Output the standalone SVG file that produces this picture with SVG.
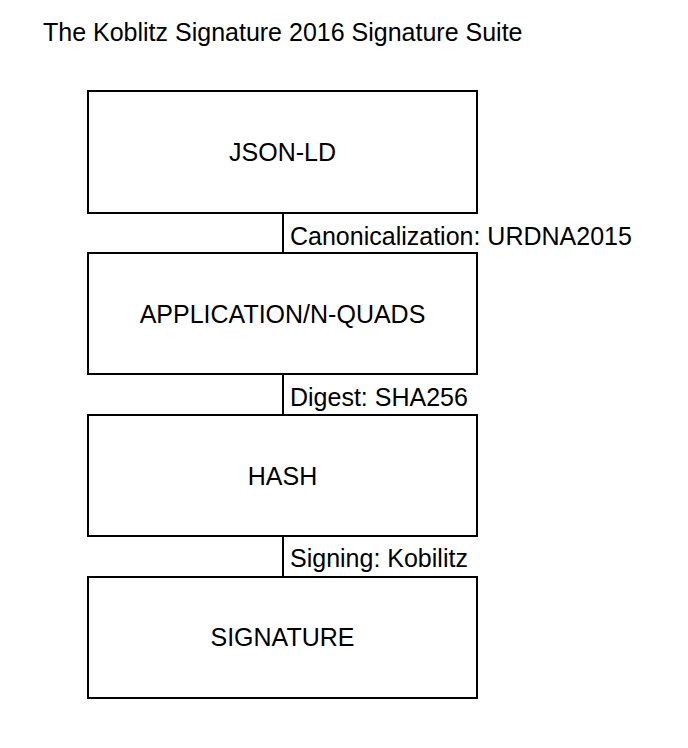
<svg xmlns="http://www.w3.org/2000/svg" width="688" height="748" viewBox="0 0 688 748">
<style>
text{font-family:"Liberation Sans",Arial,sans-serif;font-size:25px;fill:#000}
.box{fill:#fff;stroke:#000;stroke-width:2}
.c{text-anchor:middle}
.conn{stroke:#000;stroke-width:2;fill:none}
</style>
<rect width="688" height="748" fill="#fff"/>
<text x="43" y="41">The Koblitz Signature 2016 Signature Suite</text>
<g id="connectors">
<line class="conn" x1="283" y1="213" x2="283" y2="253"/>
<text x="290" y="245">Canonicalization: URDNA2015</text>
<line class="conn" x1="283" y1="374" x2="283" y2="415"/>
<text x="290" y="406">Digest: SHA256</text>
<line class="conn" x1="283" y1="536" x2="283" y2="577"/>
<text x="290" y="567">Signing: Kobilitz</text>
</g>
<g id="jsonld"><rect class="box" x="88" y="91" width="389" height="122"/><text class="c" x="282.5" y="161">JSON-LD</text></g>
<g id="nquads"><rect class="box" x="88" y="253" width="389" height="121"/><text class="c" x="282.5" y="323">APPLICATION/N-QUADS</text></g>
<g id="hash"><rect class="box" x="88" y="415" width="389" height="121"/><text class="c" x="282.5" y="485">HASH</text></g>
<g id="signature"><rect class="box" x="88" y="577" width="389" height="121"/><text class="c" x="282.5" y="646">SIGNATURE</text></g>
</svg>
